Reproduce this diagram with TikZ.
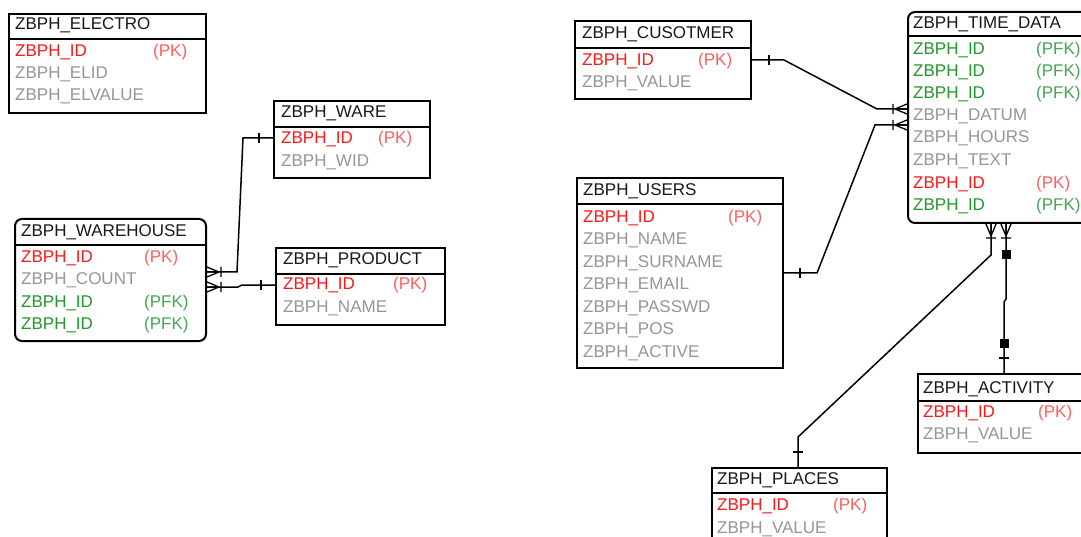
\documentclass[tikz,border=0pt]{standalone}
\usepackage{fontspec}
\setmainfont{Liberation Sans}
\definecolor{pkred}{RGB}{250,25,25}
\definecolor{pklbl}{RGB}{255,95,95}
\definecolor{fgray}{RGB}{150,150,150}
\definecolor{fgreen}{RGB}{35,150,45}
\definecolor{pfkc}{RGB}{70,165,85}
\definecolor{ttl}{RGB}{25,25,25}
\tikzset{
  tbl/.style={draw=black, line width=2pt, anchor=north west, inner sep=0pt, fill=white},
  rtbl/.style={tbl, rounded corners=7pt},
  txt/.style={anchor=base west, inner sep=0pt, font=\fontsize{17}{20}\selectfont},
  ttltxt/.style={txt, text=ttl},
  pkc/.style={txt, text=pkred},
  pkl/.style={txt, text=pklbl},
  grc/.style={txt, text=fgray},
  gnc/.style={txt, text=fgreen},
  pfk/.style={txt, text=pfkc},
  sepline/.style={draw=black, line width=2pt},
  conn/.style={draw=black, line width=1.5pt},
}
\newcommand{\crowmark}[2]{\begin{scope}[shift={(#1)},rotate=#2,line width=1.3pt]
  \draw (12,0) -- (0,5) (12,0) -- (0,-5) (12,0) -- (0,0) (14,-5) -- (14,5);
\end{scope}}
\newcommand{\onemark}[3]{\begin{scope}[shift={(#1)},rotate=#2,line width=1.3pt]
  \draw (#3,-5) -- (#3,5);
\end{scope}}
\newcommand{\sqmark}[3]{\begin{scope}[shift={(#1)},rotate=#2]
  \fill ({#3-4.5},-4.5) rectangle ({#3+4.5},4.5);
\end{scope}}
\begin{document}
\begin{tikzpicture}[x=1pt,y=-1pt]
\useasboundingbox (0,0) rectangle (1081,537);
\clip (0,0) rectangle (1081,537);
\fill[white] (0,0) rectangle (1081,537);

% tables
\node[tbl, minimum width=197pt, minimum height=99pt] (electro) at (8,13) {};
\node[tbl, minimum width=156pt, minimum height=77pt] (ware) at (273,100) {};
\node[rtbl, minimum width=191pt, minimum height=122pt] (wh) at (14,218) {};
\node[tbl, minimum width=169pt, minimum height=77pt] (prod) at (275,247) {};
\node[tbl, minimum width=176pt, minimum height=78pt] (cus) at (574,20) {};
\node[rtbl, minimum width=200pt, minimum height=211pt] (td) at (907,11) {};
\node[tbl, minimum width=206pt, minimum height=190pt] (users) at (576,177) {};
\node[tbl, minimum width=190pt, minimum height=79pt] (act) at (917,373) {};
\node[tbl, minimum width=175pt, minimum height=90pt] (places) at (711,467) {};

% separators
\draw[sepline] (8,39) -- (205,39);
\draw[sepline] (273,127) -- (429,127);
\draw[sepline] (14,245) -- (205,245);
\draw[sepline] (275,274) -- (444,274);
\draw[sepline] (574,48) -- (750,48);
\draw[sepline] (907,36) -- (1107,36);
\draw[sepline] (576,204) -- (782,204);
\draw[sepline] (917,401) -- (1107,401);
\draw[sepline] (711,493) -- (886,493);

% ELECTRO
\node[ttltxt] (eT) at (15,30) {ZBPH\_ELECTRO};
\node[pkc] (e1) at (15,57) {ZBPH\_ID};
\node[pkl] (e1k) at (153,57) {(PK)};
\node[grc] (e2) at (15,79) {ZBPH\_ELID};
\node[grc] (e3) at (15,101) {ZBPH\_ELVALUE};

% WARE
\node[ttltxt] (wT) at (281,118) {ZBPH\_WARE};
\node[pkc] (w1) at (281,144) {ZBPH\_ID};
\node[pkl] (w1k) at (378,144) {(PK)};
\node[grc] (w2) at (281,167) {ZBPH\_WID};

% WAREHOUSE
\node[ttltxt] (hT) at (21,237) {ZBPH\_WAREHOUSE};
\node[pkc] (h1) at (21,262) {ZBPH\_ID};
\node[pkl] (h1k) at (144,262) {(PK)};
\node[grc] (h2) at (21,284) {ZBPH\_COUNT};
\node[gnc] (h3) at (21,307) {ZBPH\_ID};
\node[pfk] (h3k) at (144,307) {(PFK)};
\node[gnc] (h4) at (21,329) {ZBPH\_ID};
\node[pfk] (h4k) at (144,329) {(PFK)};

% PRODUCT
\node[ttltxt] (pT) at (283,265) {ZBPH\_PRODUCT};
\node[pkc] (p1) at (283,290) {ZBPH\_ID};
\node[pkl] (p1k) at (393,290) {(PK)};
\node[grc] (p2) at (283,312) {ZBPH\_NAME};

% CUSOTMER
\node[ttltxt] (cT) at (582,39) {ZBPH\_CUSOTMER};
\node[pkc] (c1) at (582,66) {ZBPH\_ID};
\node[pkl] (c1k) at (698,66) {(PK)};
\node[grc] (c2) at (582,88) {ZBPH\_VALUE};

% TIME_DATA
\node[ttltxt] (tT) at (913,29) {ZBPH\_TIME\_DATA};
\node[gnc] (t1) at (913,55) {ZBPH\_ID};
\node[pfk] (t1k) at (1036,55) {(PFK)};
\node[gnc] (t2) at (913,77) {ZBPH\_ID};
\node[pfk] (t2k) at (1036,77) {(PFK)};
\node[gnc] (t3) at (913,99) {ZBPH\_ID};
\node[pfk] (t3k) at (1036,99) {(PFK)};
\node[grc] (t4) at (913,121) {ZBPH\_DATUM};
\node[grc] (t5) at (913,143) {ZBPH\_HOURS};
\node[grc] (t6) at (913,166) {ZBPH\_TEXT};
\node[pkc] (t7) at (913,189) {ZBPH\_ID};
\node[pkl] (t7k) at (1036,189) {(PK)};
\node[gnc] (t8) at (913,211) {ZBPH\_ID};
\node[pfk] (t8k) at (1036,211) {(PFK)};

% USERS
\node[ttltxt] (uT) at (583,196) {ZBPH\_USERS};
\node[pkc] (u1) at (583,223) {ZBPH\_ID};
\node[pkl] (u1k) at (728,223) {(PK)};
\node[grc] (u2) at (583,245) {ZBPH\_NAME};
\node[grc] (u3) at (583,268) {ZBPH\_SURNAME};
\node[grc] (u4) at (583,290) {ZBPH\_EMAIL};
\node[grc] (u5) at (583,312) {ZBPH\_PASSWD};
\node[grc] (u6) at (583,334) {ZBPH\_POS};
\node[grc] (u7) at (583,357) {ZBPH\_ACTIVE};

% ACTIVITY
\node[ttltxt] (aT) at (923,393) {ZBPH\_ACTIVITY};
\node[pkc] (a1) at (923,417) {ZBPH\_ID};
\node[pkl] (a1k) at (1038,417) {(PK)};
\node[grc] (a2) at (923,439) {ZBPH\_VALUE};

% PLACES
\node[ttltxt] (lT) at (717,484) {ZBPH\_PLACES};
\node[pkc] (l1) at (717,510) {ZBPH\_ID};
\node[pkl] (l1k) at (833,510) {(PK)};
\node[grc] (l2) at (717,533) {ZBPH\_VALUE};

% connector end points
\path (ware.north west) ++(0,38) coordinate (wareA);
\path (wh.north east) ++(0,54) coordinate (whA);
\path (prod.north west) ++(0,38) coordinate (prodA);
\path (wh.north east) ++(0,69) coordinate (whB);
\path (cus.north east) ++(0,40) coordinate (cusA);
\path (td.north west) ++(0,98) coordinate (tdA);
\path (users.north east) ++(0,96) coordinate (usersA);
\path (td.north west) ++(0,114) coordinate (tdB);
\path (td.south west) ++(84,0) coordinate (tdC);
\path (places.north west) ++(87,0) coordinate (placesA);
\path (td.south west) ++(99,0) coordinate (tdD);
\path (act.north west) ++(87,0) coordinate (actA);

% connectors
\draw[conn] (wareA) -- ++(-30,0) -- (237,272) -- (whA);
\draw[conn] (prodA) -- ++(-33,0) -- ++(-4,2) -- (whB);
\draw[conn] (cusA) -- ++(32,0) -- (877,109) -- (tdA);
\draw[conn] (usersA) -- ++(33,0) -- (875,125) -- (tdB);
\draw[conn] (tdC) -- ++(0,31) -- (798,437) -- (placesA);
\draw[conn] (tdD) -- ++(0,75) -- ++(-2,3) -- (actA);

% markers
\crowmark{whA}{0}
\onemark{wareA}{180}{14}
\crowmark{whB}{0}
\onemark{prodA}{180}{14}
\crowmark{tdA}{180}
\onemark{cusA}{0}{17}
\crowmark{tdB}{180}
\onemark{usersA}{0}{16}
\crowmark{tdC}{-90}
\onemark{placesA}{90}{15}
\crowmark{tdD}{-90}
\sqmark{tdD}{-90}{31}
\onemark{actA}{90}{15}
\sqmark{actA}{90}{30}
\end{tikzpicture}
\end{document}
